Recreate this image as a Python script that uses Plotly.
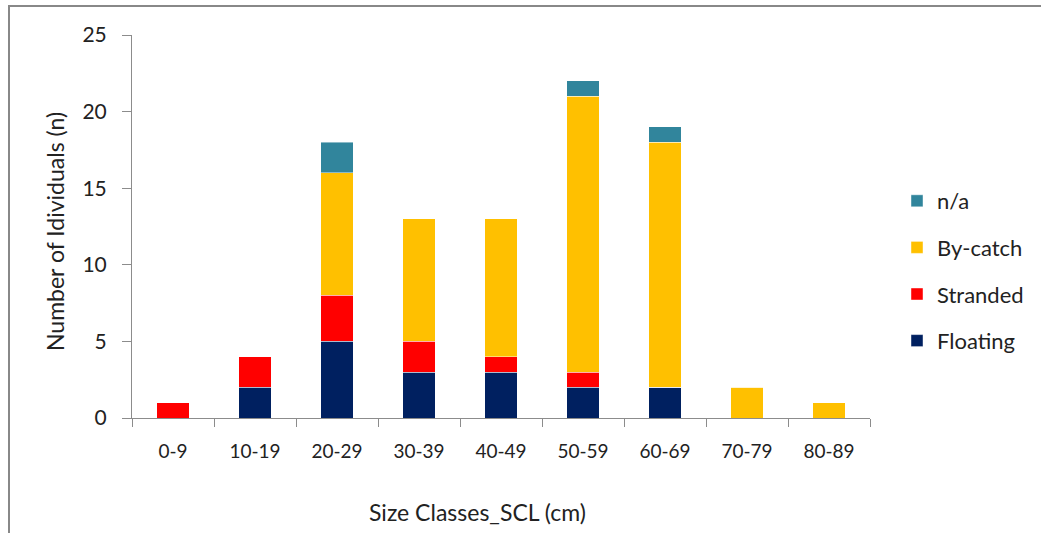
import plotly.graph_objects as go

categories = ["0-9", "10-19", "20-29", "30-39", "40-49", "50-59", "60-69", "70-79", "80-89"]
floating = [0, 2, 5, 3, 3, 2, 2, 0, 0]
stranded = [1, 2, 3, 2, 1, 1, 0, 0, 0]
bycatch = [0, 0, 8, 8, 9, 18, 16, 2, 1]
na = [0, 0, 2, 0, 0, 1, 1, 0, 0]

series = [
    ("Floating", floating, "#002060"),
    ("Stranded", stranded, "#FF0000"),
    ("By-catch", bycatch, "#FFC000"),
    ("n/a", na, "#31859C"),
]

FONT = "Lato, 'Open Sans', sans-serif"
AXIS_GREY = "#8C8C8C"

fig = go.Figure()
for i, (name, vals, color) in enumerate(series):
    fig.add_trace(go.Bar(
        x=categories, y=vals, name=name,
        marker=dict(color=color, line=dict(color="rgba(255,255,255,0.55)", width=0.8)),
        legendgroup=name,
        legendrank=len(series) - i,
    ))

W, H = 1041, 533
L, R, T, B = 132, 171, 35, 115
pw, ph = W - L - R, H - T - B

def px_x(x):
    return (x - L) / pw

def px_y(y):
    return (H - B - y) / ph

fig.update_layout(
    width=W, height=H,
    margin=dict(l=L, r=R, t=T, b=B),
    barmode="stack",
    bargap=0.6,
    plot_bgcolor="white",
    paper_bgcolor="white",
    font=dict(family=FONT, size=18, color="#222222"),
    legend=dict(
        traceorder="grouped",
        xref="container", yref="container",
        x=897 / W, y=1 - 180 / H, xanchor="left", yanchor="top",
        font=dict(size=22, color="#222222"),
        tracegroupgap=15,
        itemwidth=30,
        bgcolor="rgba(0,0,0,0)",
    ),
    xaxis=dict(
        type="category",
        tickson="boundaries",
        ticks="outside", ticklen=8, tickcolor=AXIS_GREY, tickwidth=1,
        showline=True, linecolor=AXIS_GREY, linewidth=1,
        showgrid=False,
        tickfont=dict(size=19),
        ticklabelstandoff=16,
    ),
    yaxis=dict(
        range=[0, 25], dtick=5,
        ticks="outside", ticklen=9, tickcolor=AXIS_GREY, tickwidth=1,
        showline=True, linecolor=AXIS_GREY, linewidth=1,
        showgrid=False, zeroline=False,
        tickfont=dict(size=21),
        ticklabelstandoff=11,
    ),
    shapes=[dict(
        type="rect", xref="paper", yref="paper",
        x0=px_x(9), x1=px_x(1060), y0=px_y(545), y1=px_y(6),
        line=dict(color="#888888", width=2), fillcolor="rgba(0,0,0,0)",
        layer="below",
    )],
    annotations=[
        dict(text="Size Classes_SCL (cm)", xref="paper", yref="paper",
             x=px_x(477), y=px_y(512), showarrow=False,
             font=dict(size=23), xanchor="center", yanchor="middle"),
        dict(text="Number of Idividuals (n)", xref="paper", yref="paper",
             x=px_x(55), y=px_y(232), showarrow=False, textangle=-90,
             font=dict(size=23), xanchor="center", yanchor="middle"),
    ],
)

fig.write_html("out.html")
